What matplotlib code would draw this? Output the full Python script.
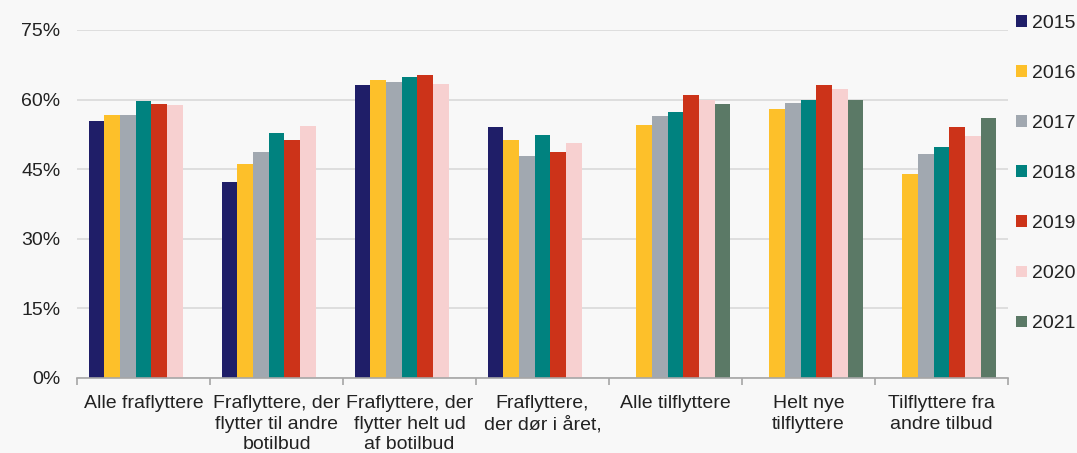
import numpy as np
import matplotlib.pyplot as plt
from matplotlib.patches import Patch

plt.rcParams['font.family'] = ['Liberation Sans', 'DejaVu Sans']

categories = [
    "Alle fraflyttere",
    "Fraflyttere, der\nflytter til andre\nbotilbud",
    "Fraflyttere, der\nflytter helt ud\naf botilbud",
    "Fraflyttere,\nder dør i året,",
    "Alle tilflyttere",
    "Helt nye\ntilflyttere",
    "Tilflyttere fra\nandre tilbud",
]
years = ["2015", "2016", "2017", "2018", "2019", "2020", "2021"]

nan = np.nan
v2015 = [55.4, 42.2, 63.1, 54.1, nan, nan, nan]
v2016 = [56.7, 46.1, 64.2, 51.4, 54.6, 58.0, 43.9]
v2017 = [56.7, 48.8, 63.7, 47.9, 56.5, 59.3, 48.2]
v2018 = [59.7, 52.9, 64.9, 52.4, 57.4, 60.0, 49.7]
v2019 = [59.0, 51.2, 65.3, 48.6, 61.0, 63.1, 54.1]
v2020 = [58.8, 54.3, 63.4, 50.6, 60.0, 62.2, 52.1]
v2021 = [nan, nan, nan, nan, 59.0, 60.0, 56.1]
series = [v2015, v2016, v2017, v2018, v2019, v2020, v2021]

colors = ["#1F1E68", "#FDC02A", "#A1A8B0", "#00827F", "#CC3319", "#F7D0D0", "#5B7966"]

bg = "#F8F8F8"
txt = "#222222"
fig = plt.figure(figsize=(10.77, 4.53), dpi=100, facecolor=bg)
ax = fig.add_axes([77 / 1077, 1 - 378 / 453, (1008 - 77) / 1077, (378 - 30) / 453])
ax.set_facecolor(bg)

x = np.arange(len(categories))
w = 0.118
for i, (vals, c) in enumerate(zip(series, colors)):
    ax.bar(x + (i - 3) * w, vals, width=w, color=c, label=years[i], zorder=3)

ax.set_xlim(-0.5, len(categories) - 0.5)
ax.set_ylim(0, 75)
ax.set_yticks([0, 15, 30, 45, 60, 75])
ax.set_yticklabels([f"{t}%" for t in [0, 15, 30, 45, 60, 75]])
ax.yaxis.grid(True, color="#D9D9D9", linewidth=1.2, zorder=0)
ax.tick_params(axis="y", length=0, pad=12, labelsize=14, labelcolor=txt)

ax.set_xticks(np.arange(-0.5, len(categories) + 0.5, 1.0))
ax.set_xticklabels([])
ax.set_xticks(x, minor=True)
ax.set_xticklabels(categories, minor=True, fontsize=14, color=txt,
                   linespacing=1.3, va="top")
ax.tick_params(axis="x", which="major", length=5, color="#A6A6A6", width=1.2)
ax.tick_params(axis="x", which="minor", length=0, pad=12)

for s in ["top", "right", "left"]:
    ax.spines[s].set_visible(False)
ax.spines["bottom"].set_color("#A6A6A6")
ax.spines["bottom"].set_linewidth(1.2)
ax.spines["bottom"].set_zorder(4)

handles = [Patch(facecolor=c, label=y) for c, y in zip(colors, years)]
leg = fig.legend(handles=handles, loc="upper left",
                 bbox_to_anchor=(1016 / 1077, 1 - 15 / 453),
                 frameon=False, fontsize=14, handlelength=0.55, handleheight=0.55,
                 handletextpad=0.25, labelspacing=1.7, borderaxespad=0, borderpad=0)
for t in leg.get_texts():
    t.set_color(txt)

fig.savefig("out.png", dpi=100, facecolor=bg)
